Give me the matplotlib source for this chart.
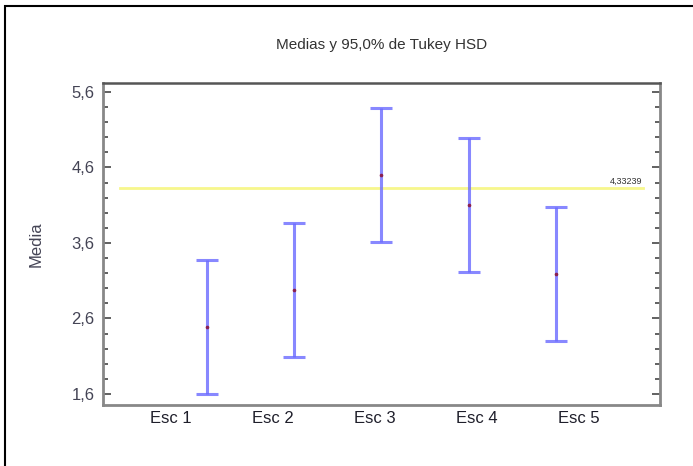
import numpy as np
import matplotlib
matplotlib.use("Agg")
import matplotlib.pyplot as plt
from matplotlib.ticker import MultipleLocator, FixedLocator
from matplotlib.patches import Rectangle

# Group means and Tukey HSD half-widths (95%)
groups = ["Esc 1", "Esc 2", "Esc 3", "Esc 4", "Esc 5"]
medias = [2.49, 2.98, 4.50, 4.10, 3.19]
semi_intervalo = [0.887, 0.887, 0.887, 0.887, 0.887]

# Reference line and its label
nivel_ref = 4.33239
etiqueta_ref = "4,33239"

# y axis ticks
yticks = [1.6, 2.6, 3.6, 4.6, 5.6]
ytick_labels = ["1,6", "2,6", "3,6", "4,6", "5,6"]

plt.rcParams['font.family'] = ['Liberation Sans', 'DejaVu Sans']


def main():
    fig = plt.figure(figsize=(6.93, 4.66), dpi=100)
    ax = fig.add_axes([0.1486, 0.1309, 0.8038, 0.691])

    x = np.arange(1, len(groups) + 1)

    # reference line across the groups
    ax.plot([0, len(groups) + 1], [nivel_ref, nivel_ref], color='#f7f78c', lw=2.0, zorder=1)
    ax.text(len(groups) + 1, nivel_ref + 0.02, etiqueta_ref, ha='right', va='bottom',
            fontsize=6.5, color='#333333')

    # intervals
    ax.errorbar(x, medias, yerr=semi_intervalo, fmt='none', ecolor='#6b6bff',
                elinewidth=2.2, capsize=8, capthick=2.2, alpha=0.8, zorder=2)
    ax.plot(x, medias, 'o', ms=1.6, color='#8a2050', zorder=3)

    ax.set_xlim(-0.2, len(groups) + 1.2)
    ax.set_ylim(1.454, 5.719)

    # category labels sit on their own grid (statgraphics style)
    pos_etiquetas = np.linspace(0.58, 5.27, len(groups))
    ax.xaxis.set_major_locator(FixedLocator(pos_etiquetas))
    ax.set_xticklabels(groups, fontsize=12, color='#1e1e2a')
    ax.tick_params(axis='x', length=0, pad=4)

    ax.set_yticks(yticks)
    ax.set_yticklabels(ytick_labels, fontsize=12, color='#444455')
    ax.yaxis.set_minor_locator(MultipleLocator(0.2))
    ax.tick_params(axis='y', which='major', direction='in', length=6, width=1.3,
                   color='#555555', left=True, right=True, pad=6)
    ax.tick_params(axis='y', which='minor', direction='in', length=3.5, width=1.3,
                   color='#555555', left=True, right=True)

    for lado in ['left', 'bottom', 'right']:
        ax.spines[lado].set_color('#888888')
        ax.spines[lado].set_linewidth(2)
    ax.spines['top'].set_color('#555555')
    ax.spines['top'].set_linewidth(1.8)

    ax.set_ylabel("Media", fontsize=12, color='#444455', labelpad=20)
    fig.suptitle("Medias y 95,0% de Tukey HSD", x=0.5505, y=0.918, fontsize=11,
                 color='#333333')

    # outer frame
    fig.patches.append(Rectangle((5 / 693, -0.1), 1.0, 1.1 - 6 / 466, transform=fig.transFigure,
                                 fill=False, edgecolor='black', lw=1.5))

    fig.savefig("out.png", dpi=100)


if __name__ == "__main__":
    main()
